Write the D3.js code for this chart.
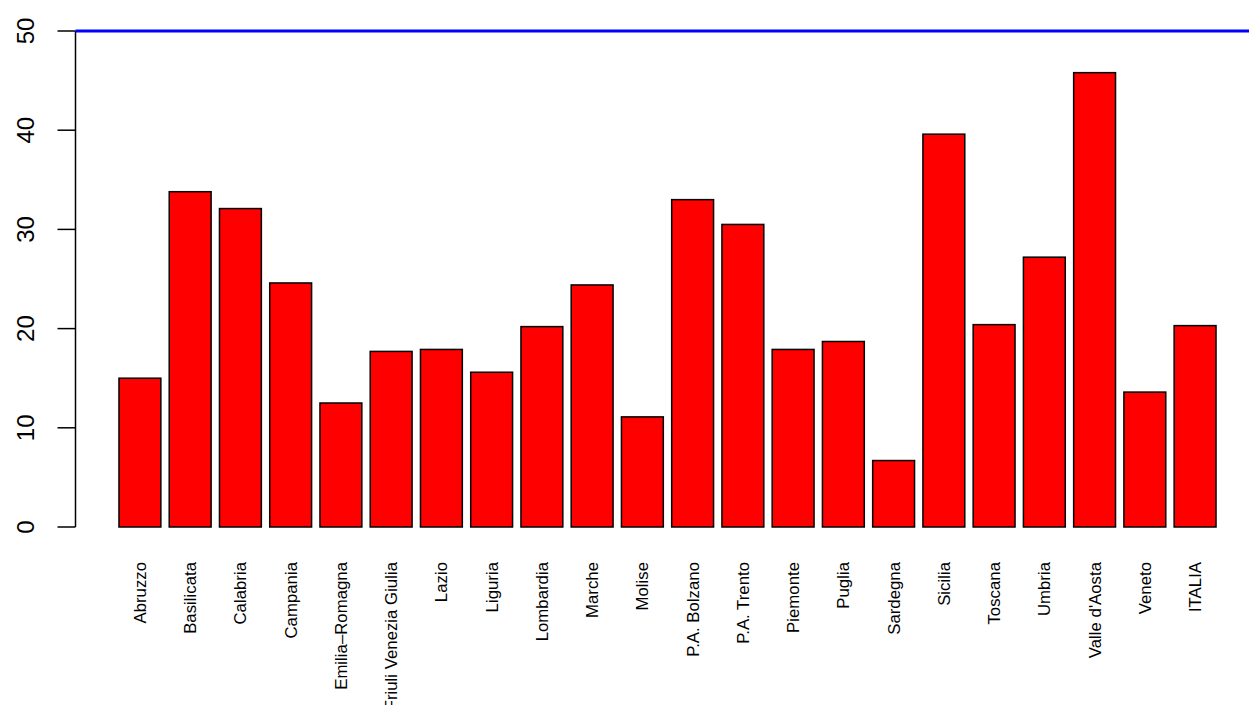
<!DOCTYPE html>
<html>
<head>
<meta charset="utf-8">
<script src="https://cdn.jsdelivr.net/npm/d3@7"></script>
<style>
  body { margin: 0; background: #fff; }
  svg { display: block; font-family: "Liberation Sans", Arial, Helvetica, sans-serif; }
</style>
</head>
<body>
<div id="viz"></div>
<script>
// regions, in plot order
var regions = ["Abruzzo", "Basilicata", "Calabria", "Campania", "Emilia\u2013Romagna",
  "Friuli Venezia Giulia", "Lazio", "Liguria", "Lombardia", "Marche", "Molise",
  "P.A. Bolzano", "P.A. Trento", "Piemonte", "Puglia", "Sardegna", "Sicilia",
  "Toscana", "Umbria", "Valle d'Aosta", "Veneto", "ITALIA"];

// bar heights
var values = [15.0, 33.8, 32.1, 24.6, 12.5, 17.7, 17.9, 15.6, 20.2, 24.4, 11.1,
  33.0, 30.5, 17.9, 18.7, 6.7, 39.6, 20.4, 27.2, 45.8, 13.6, 20.3];

var yTicks = [0, 10, 20, 30, 40, 50];
var refLine = [50];

var width = 1249, height = 705;

var svg = d3.select("#viz")
  .append("svg")
  .attr("width", width)
  .attr("height", height);

// barplot style: width 1, space 0.2, 4% padding on both ends
var n = regions.length;
var xmin = 0.2, xmax = n * 1.2;
var pad = (xmax - xmin) * 0.04;
var x = d3.scaleLinear()
  .domain([xmin - pad, xmax + pad])
  .range([75.1, 1259.9]);

var y = d3.scaleLinear()
  .domain([0, 50])
  .range([527, 31]);

var data = regions.map(function (r, i) {
  return { name: r, value: values[i], left: 0.2 + i * 1.2 };
});

// bars
svg.selectAll("rect.bar")
  .data(data)
  .enter().append("rect")
  .attr("class", "bar")
  .attr("x", function (d) { return x(d.left); })
  .attr("width", function (d) { return x(d.left + 1) - x(d.left); })
  .attr("y", function (d) { return y(d.value); })
  .attr("height", function (d) { return y(0) - y(d.value); })
  .style("fill", "#ff0000")
  .style("stroke", "#000")
  .style("stroke-width", 1.5);

// category labels, perpendicular to the axis
svg.selectAll("text.name")
  .data(data)
  .enter().append("text")
  .attr("class", "name")
  .attr("transform", function (d) {
    return "translate(" + (x(d.left + 0.5) + 6) + ",562) rotate(-90)";
  })
  .attr("text-anchor", "end")
  .style("font-size", "16.8px")
  .style("fill", "#000")
  .text(function (d) { return d.name; });

// y axis, drawn R style
var ax = svg.append("g");
ax.append("line")
  .attr("x1", 75.5).attr("x2", 75.5)
  .attr("y1", y(0)).attr("y2", y(50))
  .style("stroke", "#000").style("stroke-width", 1.5);

ax.selectAll("line.tick")
  .data(yTicks)
  .enter().append("line")
  .attr("class", "tick")
  .attr("x1", 57.5).attr("x2", 75.5)
  .attr("y1", function (d) { return y(d); })
  .attr("y2", function (d) { return y(d); })
  .style("stroke", "#000").style("stroke-width", 1.5);

ax.selectAll("text.tl")
  .data(yTicks)
  .enter().append("text")
  .attr("class", "tl")
  .attr("transform", function (d) { return "translate(34," + y(d) + ") rotate(-90)"; })
  .attr("text-anchor", "middle")
  .style("font-size", "24px")
  .style("fill", "#000")
  .text(function (d) { return d; });

// horizontal reference line
svg.selectAll("line.ref")
  .data(refLine)
  .enter().append("line")
  .attr("class", "ref")
  .attr("x1", 75.5).attr("x2", width)
  .attr("y1", function (d) { return y(d); })
  .attr("y2", function (d) { return y(d); })
  .style("stroke", "#0000ff")
  .style("stroke-width", 3);
</script>
</body>
</html>
